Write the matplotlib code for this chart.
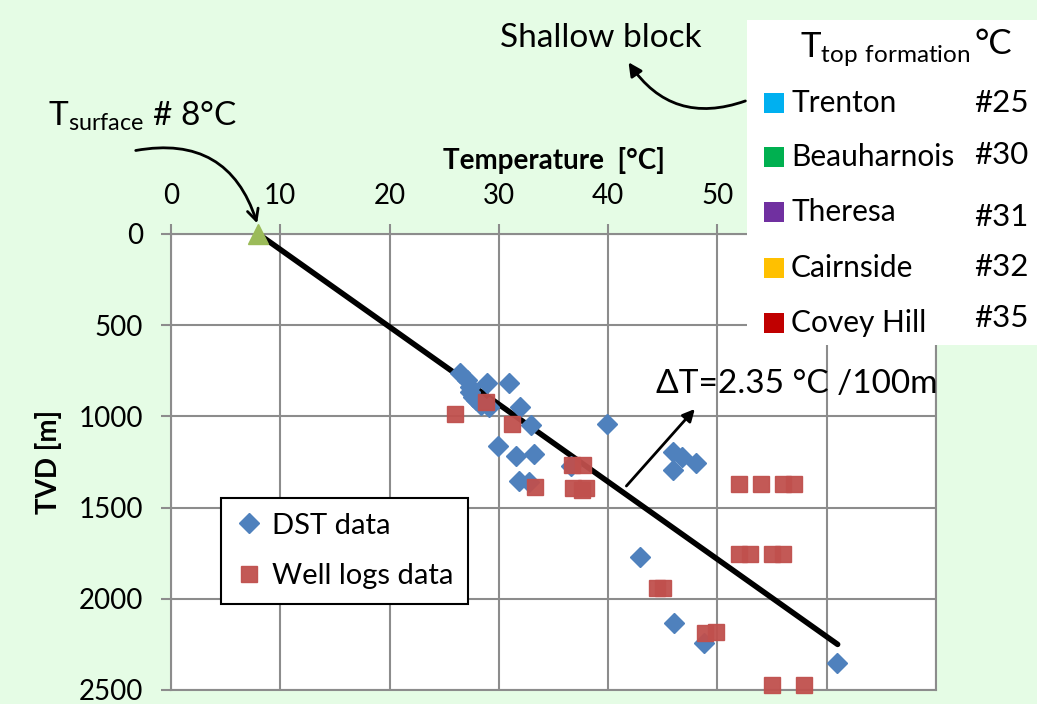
import matplotlib
matplotlib.use("Agg")
import matplotlib.pyplot as plt
from matplotlib.patches import Rectangle

plt.rcParams['font.family'] = ['Lato', 'DejaVu Sans']

# DST measurements (temperature degC, true vertical depth m)
dst_temp = [26.4, 27.1, 27.4, 27.4, 27.9, 28.9, 30.9, 27.6, 28.4, 29.1, 31.9, 32.9, 39.9,
            29.9, 31.6, 33.2, 31.8, 32.8, 36.6, 45.9, 46.8, 48.0, 45.9, 42.9, 46.0, 48.8, 60.9]
dst_depth = [762, 800, 838, 866, 910, 816, 816, 893, 937, 948, 948, 1047, 1042,
             1162, 1217, 1206, 1354, 1360, 1272, 1195, 1222, 1255, 1294, 1770, 2133, 2243, 2352]

# well log measurements
well_temp = [26.0, 28.8, 31.2, 33.3, 36.7, 37.7, 36.8, 37.6, 38.0, 52.0, 54.0, 56.0, 57.0,
             52.0, 53.0, 55.0, 56.0, 44.5, 45.0, 48.9, 49.9, 55.0, 57.9]
well_depth = [987, 921, 1042, 1387, 1266, 1266, 1393, 1404, 1390, 1371, 1371, 1371, 1371,
              1754, 1754, 1754, 1754, 1941, 1941, 2188, 2182, 2473, 2473]

# linear gradient line and surface temperature
fit_temp = [8, 61]
fit_depth = [0, 2250]
t_surface = 8

# x tick labels (60 and 70 sit under the formation box)
x_ticks = [0, 10, 20, 30, 40, 50, 60, 70]
x_labels = ['0', '10', '20', '30', '40', '50', '', '']

# top-of-formation temperatures (shallow block)
formations = ['Trenton', 'Beauharnois', 'Theresa', 'Cairnside', 'Covey Hill']
form_temps = ['#25', '#30', '#31', '#32', '#35']
form_colors = ['#00B0F0', '#00B050', '#7030A0', '#FFC000', '#C00000']

bg = '#E5FCE5'
grid_c = '#8C8C8C'
W, H = 1037, 704


def fx(px):
    return px / W


def fy(py):
    return 1 - py / H


fig = plt.figure(figsize=(W / 100, H / 100), dpi=100, facecolor=bg)
ax = fig.add_axes([fx(171), fy(690), (936 - 171) / W, (690 - 234) / H])
ax.set_facecolor('white')

ax.set_xlim(0, 70)
ax.set_ylim(2500, 0)
ax.set_xticks(x_ticks)
ax.set_xticklabels(x_labels)
ax.set_yticks(range(0, 2501, 500))
ax.xaxis.tick_top()
ax.xaxis.set_label_position('top')
ax.grid(True, color=grid_c, lw=1.5)
ax.set_axisbelow(True)
for sp in ax.spines.values():
    sp.set_color(grid_c)
    sp.set_linewidth(1.5)
ax.tick_params(axis='x', length=7, width=1.5, color=grid_c, pad=11, labelsize=20)
ax.tick_params(axis='y', length=7, width=1.5, color=grid_c, pad=13, labelsize=20)
ax.set_xlabel('Temperature  [°C]', fontsize=20, fontweight='bold', labelpad=10)
ax.set_ylabel('TVD [m]', fontsize=20, fontweight='bold', labelpad=12)

ax.plot(fit_temp, fit_depth, color='black', lw=4, solid_capstyle='round', zorder=3)
ax.plot(dst_temp, dst_depth, 'D', color='#4F81BD', ms=9.7, mec='#4F81BD',
        label='DST data', clip_on=False, zorder=4)
ax.plot(well_temp, well_depth, 's', color='#C0504D', ms=11, mec='#C0504D', alpha=0.95,
        label='Well logs data', clip_on=False, zorder=5)
ax.plot([t_surface], [0], '^', color='#9BBB59', ms=15, clip_on=False, zorder=6)

leg = ax.legend(loc='upper left', bbox_to_anchor=(fx(221), fy(498)),
                bbox_transform=fig.transFigure, borderaxespad=0, fontsize=21,
                fancybox=False, edgecolor='black', framealpha=1, labelspacing=0.85,
                handlelength=0.9, handletextpad=0.35, borderpad=0.5)
leg.get_frame().set_linewidth(1.5)

# gradient annotation
ax.annotate('', xy=(48.1, 948), xytext=(41.5, 1393),
            arrowprops=dict(arrowstyle='-|>', color='black', lw=2, mutation_scale=18))
ax.text(44.4, 822, 'ΔT=2.35 °C /100m', fontsize=24, va='center', ha='left', zorder=7)

# surface temperature annotation
fig.text(fx(48), fy(116), r'$\mathregular{T_{surface}}$ # 8°C', fontsize=24,
         va='center', ha='left')
ax.annotate('', xy=(fx(258), fy(226)), xytext=(fx(133), fy(151)),
            xycoords='figure fraction', textcoords='figure fraction',
            arrowprops=dict(arrowstyle='->', color='black', lw=2, mutation_scale=20,
                            connectionstyle='arc3,rad=-0.45'),
            annotation_clip=False)

# shallow block box
fig.add_artist(Rectangle((fx(747), fy(345)), (W - 747) / W, (345 - 20) / H,
                         transform=fig.transFigure, facecolor='white', edgecolor='none',
                         zorder=10))
fig.text(fx(500), fy(38), 'Shallow block', fontsize=24, va='center', ha='left', zorder=11)
ax.annotate('', xy=(fx(627), fy(60)), xytext=(fx(748), fy(100)),
            xycoords='figure fraction', textcoords='figure fraction',
            arrowprops=dict(arrowstyle='-|>', color='black', lw=2, mutation_scale=20,
                            connectionstyle='arc3,rad=-0.4'),
            annotation_clip=False)

fig.text(fx(800), fy(50), r'$\mathregular{T_{top\ formation}}$', fontsize=25,
         va='center', ha='left', zorder=11)
fig.text(fx(974), fy(44), '°C', fontsize=25, va='center', ha='left', zorder=11)

row_y = [103, 157, 212, 268, 323]
num_y = [103, 155, 217, 267, 318]
for name, num, col, ry, ny in zip(formations, form_temps, form_colors, row_y, num_y):
    fig.add_artist(Rectangle((fx(764), fy(ry + 10)), 20 / W, 20 / H,
                             transform=fig.transFigure, facecolor=col, edgecolor='none',
                             zorder=11))
    fig.text(fx(791), fy(ry), name, fontsize=21.5, va='center', ha='left', zorder=11)
    fig.text(fx(974), fy(ny), num, fontsize=22.5, va='center', ha='left', zorder=11)

fig.savefig('out.png', dpi=100, facecolor=bg)
